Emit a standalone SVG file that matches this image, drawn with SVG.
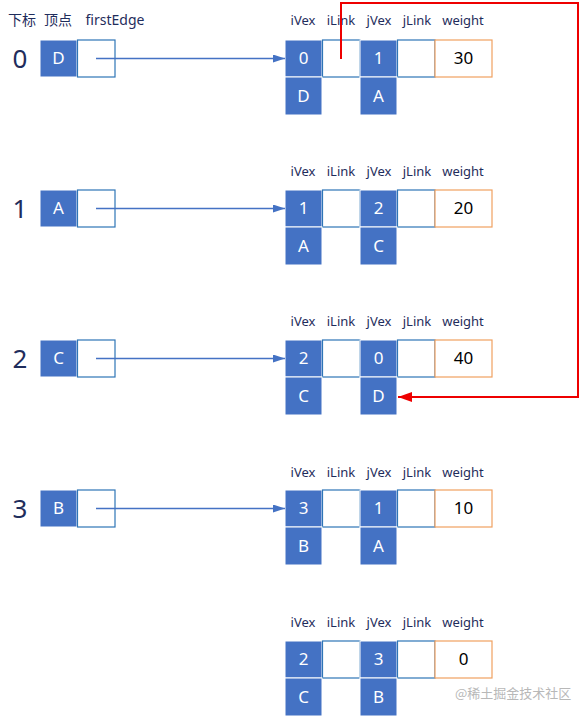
<svg xmlns="http://www.w3.org/2000/svg" width="581" height="719" viewBox="0 0 581 719">
<style>
.bg{fill:#ffffff}
.hd{font-family:"Noto Sans","Noto Sans CJK SC",sans-serif;font-size:13px;fill:#1f2d5c;text-anchor:middle}
.hd0{font-family:"Noto Sans","Noto Sans CJK SC",sans-serif;font-size:14px;fill:#1f2d5c;text-anchor:middle}
.idx{font-family:"Noto Sans",sans-serif;font-size:26px;fill:#1f2d5c;text-anchor:middle}
.bl{fill:#4472c4;stroke:#ffffff;stroke-width:1}
.wb{fill:#ffffff;stroke:#2e75b6;stroke-width:1.2}
.wt{fill:#ffffff;stroke:#f0a15f;stroke-width:1.2}
.tw{font-family:"Noto Sans",sans-serif;font-size:17px;fill:#ffffff;text-anchor:middle}
.tk{font-family:"Noto Sans",sans-serif;font-size:17px;fill:#000000;text-anchor:middle}
.ar{stroke:#4472c4;stroke-width:1.6;fill:none}
.rd{stroke:#ee0000;stroke-width:2;fill:none}
.wm{font-family:"Noto Sans CJK SC",sans-serif;font-size:13px;fill:#b8b8b8}
</style>
<defs>
<marker id="ab" markerWidth="12" markerHeight="8" refX="12" refY="4" orient="auto" markerUnits="userSpaceOnUse"><path d="M0,0 L12,4 L0,8 Z" fill="#4472c4"/></marker>
<marker id="ar" markerWidth="14" markerHeight="10" refX="14" refY="5" orient="auto" markerUnits="userSpaceOnUse"><path d="M0,0 L14,5 L0,10 Z" fill="#ee0000"/></marker>
<g id="hdr"><text x="303" y="0" class="hd">iVex</text><text x="341" y="0" class="hd">iLink</text><text x="379" y="0" class="hd">jVex</text><text x="417" y="0" class="hd">jLink</text><text x="463" y="0" class="hd">weight</text></g>
</defs>
<rect class="bg" x="0" y="0" width="581" height="719"/>
<g id="header"><text x="22" y="25" class="hd0">下标</text><text x="58" y="25" class="hd0">顶点</text><text x="115" y="25" class="hd0">firstEdge</text></g>

<g id="v0"><text x="20" y="68" class="idx">0</text><rect class="bl" x="40" y="40" width="37" height="37"/><text x="58.5" y="64" class="tw">D</text><rect class="wb" x="77.5" y="40" width="37.5" height="37"/></g>
<g id="v1"><text x="20" y="218" class="idx">1</text><rect class="bl" x="40" y="190" width="37" height="37"/><text x="58.5" y="214" class="tw">A</text><rect class="wb" x="77.5" y="190" width="37.5" height="37"/></g>
<g id="v2"><text x="20" y="368" class="idx">2</text><rect class="bl" x="40" y="340" width="37" height="37"/><text x="58.5" y="364" class="tw">C</text><rect class="wb" x="77.5" y="340" width="37.5" height="37"/></g>
<g id="v3"><text x="20" y="518" class="idx">3</text><rect class="bl" x="40" y="490" width="37" height="37"/><text x="58.5" y="514" class="tw">B</text><rect class="wb" x="77.5" y="490" width="37.5" height="37"/></g>

<g id="e0" transform="translate(0,0)">
<use href="#hdr" y="25"/>
<rect class="bl" x="285" y="40" width="37" height="37"/><text x="303.5" y="64" class="tw">0</text>
<rect class="wb" x="322.5" y="40" width="37.5" height="37"/>
<rect class="bl" x="360" y="40" width="37" height="37"/><text x="378.5" y="64" class="tw">1</text>
<rect class="wb" x="397.5" y="40" width="37.5" height="37"/>
<rect class="wt" x="435" y="40" width="57" height="37"/><text x="463.5" y="64" class="tk">30</text>
<rect class="bl" x="285" y="77" width="37" height="38"/><text x="303.5" y="102" class="tw">D</text>
<rect class="bl" x="360" y="77" width="37" height="38"/><text x="378.5" y="102" class="tw">A</text>
</g>
<g id="e1" transform="translate(0,150)">
<use href="#hdr" y="26"/>
<rect class="bl" x="285" y="40" width="37" height="37"/><text x="303.5" y="64" class="tw">1</text>
<rect class="wb" x="322.5" y="40" width="37.5" height="37"/>
<rect class="bl" x="360" y="40" width="37" height="37"/><text x="378.5" y="64" class="tw">2</text>
<rect class="wb" x="397.5" y="40" width="37.5" height="37"/>
<rect class="wt" x="435" y="40" width="57" height="37"/><text x="463.5" y="64" class="tk">20</text>
<rect class="bl" x="285" y="77" width="37" height="38"/><text x="303.5" y="102" class="tw">A</text>
<rect class="bl" x="360" y="77" width="37" height="38"/><text x="378.5" y="102" class="tw">C</text>
</g>
<g id="e2" transform="translate(0,300)">
<use href="#hdr" y="26"/>
<rect class="bl" x="285" y="40" width="37" height="37"/><text x="303.5" y="64" class="tw">2</text>
<rect class="wb" x="322.5" y="40" width="37.5" height="37"/>
<rect class="bl" x="360" y="40" width="37" height="37"/><text x="378.5" y="64" class="tw">0</text>
<rect class="wb" x="397.5" y="40" width="37.5" height="37"/>
<rect class="wt" x="435" y="40" width="57" height="37"/><text x="463.5" y="64" class="tk">40</text>
<rect class="bl" x="285" y="77" width="37" height="38"/><text x="303.5" y="102" class="tw">C</text>
<rect class="bl" x="360" y="77" width="37" height="38"/><text x="378.5" y="102" class="tw">D</text>
</g>
<g id="e3" transform="translate(0,450)">
<use href="#hdr" y="27"/>
<rect class="bl" x="285" y="40" width="37" height="37"/><text x="303.5" y="64" class="tw">3</text>
<rect class="wb" x="322.5" y="40" width="37.5" height="37"/>
<rect class="bl" x="360" y="40" width="37" height="37"/><text x="378.5" y="64" class="tw">1</text>
<rect class="wb" x="397.5" y="40" width="37.5" height="37"/>
<rect class="wt" x="435" y="40" width="57" height="37"/><text x="463.5" y="64" class="tk">10</text>
<rect class="bl" x="285" y="77" width="37" height="38"/><text x="303.5" y="102" class="tw">B</text>
<rect class="bl" x="360" y="77" width="37" height="38"/><text x="378.5" y="102" class="tw">A</text>
</g>
<g id="e4" transform="translate(0,601)">
<use href="#hdr" y="26"/>
<rect class="bl" x="285" y="40" width="37" height="37"/><text x="303.5" y="64" class="tw">2</text>
<rect class="wb" x="322.5" y="40" width="37.5" height="37"/>
<rect class="bl" x="360" y="40" width="37" height="37"/><text x="378.5" y="64" class="tw">3</text>
<rect class="wb" x="397.5" y="40" width="37.5" height="37"/>
<rect class="wt" x="435" y="40" width="57" height="37"/><text x="463.5" y="64" class="tk">0</text>
<rect class="bl" x="285" y="77" width="37" height="38"/><text x="303.5" y="102" class="tw">C</text>
<rect class="bl" x="360" y="77" width="37" height="38"/><text x="378.5" y="102" class="tw">B</text>
</g>

<g id="connectors">
<line class="ar" x1="96" y1="58.5" x2="285" y2="58.5" marker-end="url(#ab)"/>
<line class="ar" x1="96" y1="208.5" x2="285" y2="208.5" marker-end="url(#ab)"/>
<line class="ar" x1="96" y1="358.5" x2="285" y2="358.5" marker-end="url(#ab)"/>
<line class="ar" x1="96" y1="508.5" x2="285" y2="508.5" marker-end="url(#ab)"/>
<polyline class="rd" points="341,59 341,3 578,3 578,397 398,397" marker-end="url(#ar)"/>
</g>
<text x="455" y="698" class="wm">@稀土掘金技术社区</text>
</svg>
